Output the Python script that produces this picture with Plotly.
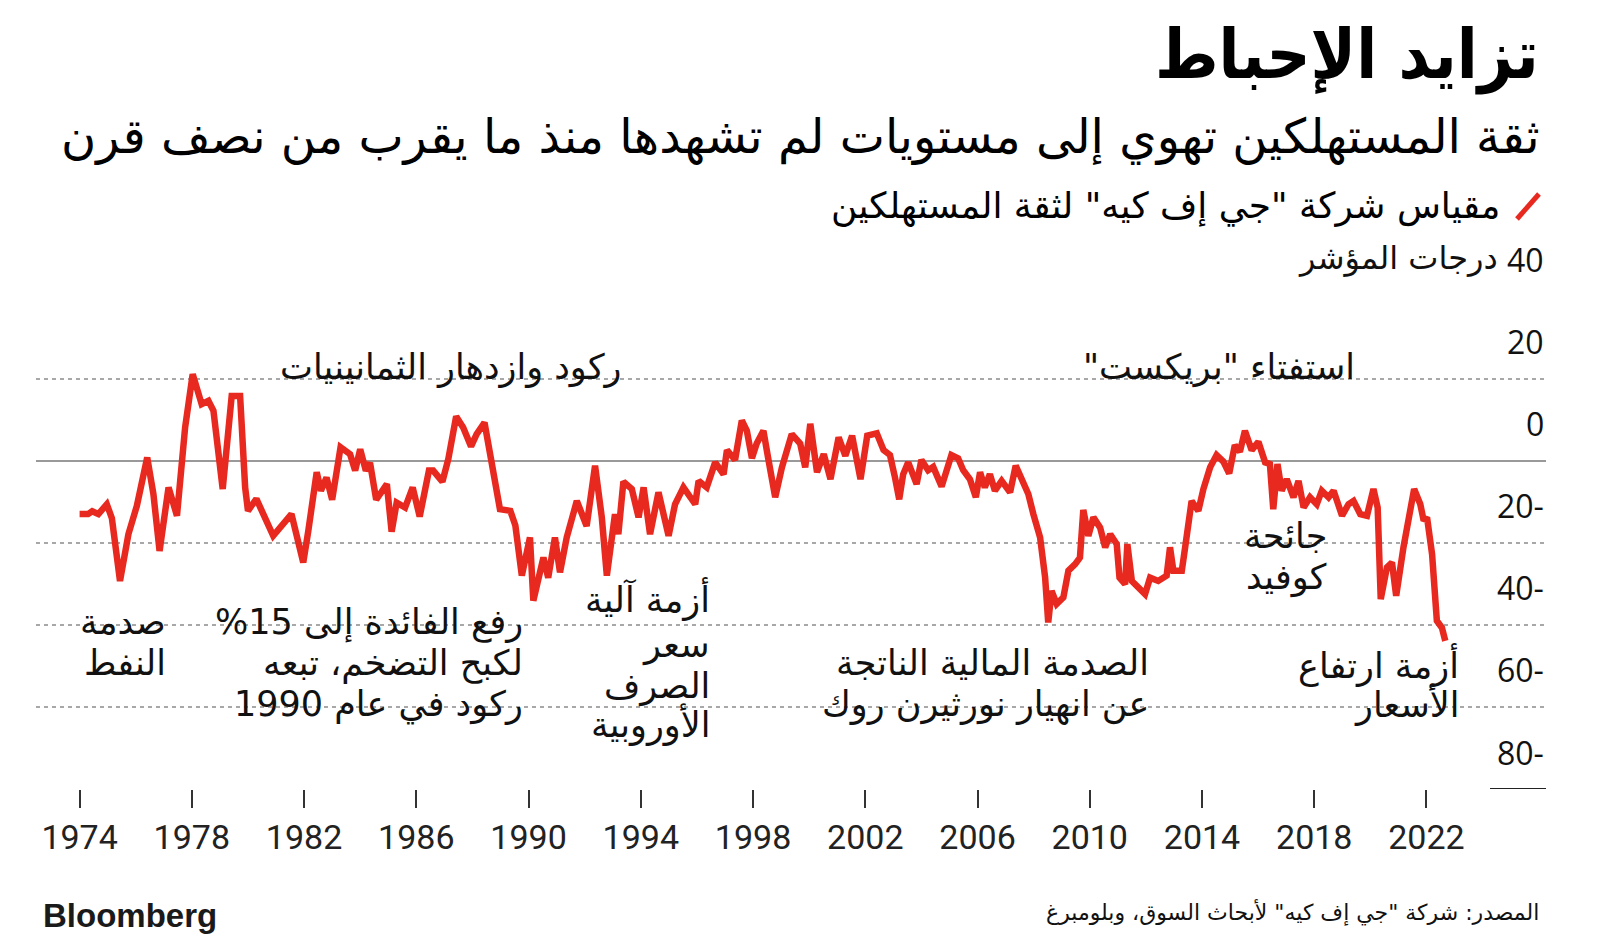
import plotly.graph_objects as go

# ---------------- data ----------------
years = [1974.0, 1974.3, 1974.45, 1974.67, 1974.97, 1975.15, 1975.44, 1975.74, 1976.04, 1976.41,
         1976.63, 1976.85, 1977.17, 1977.47, 1977.76, 1978.03, 1978.35, 1978.59, 1978.77, 1979.1,
         1979.42, 1979.72, 1979.9, 1980.0, 1980.3, 1980.9, 1981.55, 1981.97, 1982.15, 1982.45,
         1982.6, 1982.8, 1983.0, 1983.3, 1983.64, 1983.82, 1984.0, 1984.2, 1984.35, 1984.57,
         1984.95, 1985.12, 1985.3, 1985.6, 1985.87, 1986.12, 1986.45, 1986.6, 1986.93, 1987.14,
         1987.42, 1987.67, 1987.95, 1988.15, 1988.43, 1988.72, 1988.98, 1989.35, 1989.53, 1989.76,
         1990.05, 1990.17, 1990.53, 1990.7, 1990.94, 1991.12, 1991.36, 1991.72, 1992.07, 1992.37,
         1992.61, 1992.79, 1993.08, 1993.2, 1993.38, 1993.68, 1993.92, 1994.1, 1994.33, 1994.63,
         1994.99, 1995.22, 1995.52, 1995.94, 1996.06, 1996.35, 1996.65, 1996.95, 1997.07, 1997.36,
         1997.6, 1997.78, 1997.96, 1998.13, 1998.37, 1998.55, 1998.79, 1999.03, 1999.38, 1999.68,
         1999.86, 2000.04, 2000.28, 2000.52, 2000.76, 2001.05, 2001.29, 2001.53, 2001.83, 2002.07,
         2002.41, 2002.65, 2002.88, 2003.06, 2003.21, 2003.35, 2003.53, 2003.83, 2004.0, 2004.24,
         2004.42, 2004.72, 2005.07, 2005.31, 2005.49, 2005.73, 2005.94, 2006.09, 2006.26, 2006.44,
         2006.62, 2006.86, 2007.16, 2007.36, 2007.57, 2007.81, 2007.99, 2008.23, 2008.41, 2008.52,
         2008.64, 2008.82, 2009.06, 2009.24, 2009.48, 2009.65, 2009.77, 2009.95, 2010.13, 2010.37,
         2010.55, 2010.73, 2010.96, 2011.06, 2011.26, 2011.34, 2011.5, 2011.79, 2011.97, 2012.15,
         2012.44, 2012.74, 2012.86, 2012.98, 2013.28, 2013.4, 2013.63, 2013.87, 2014.05, 2014.29,
         2014.52, 2014.76, 2014.97, 2015.17, 2015.35, 2015.53, 2015.77, 2016.01, 2016.25, 2016.42,
         2016.54, 2016.69, 2016.84, 2017.02, 2017.26, 2017.44, 2017.62, 2017.85, 2018.09, 2018.27,
         2018.51, 2018.69, 2018.99, 2019.22, 2019.4, 2019.64, 2019.88, 2020.11, 2020.26, 2020.37,
         2020.59, 2020.77, 2020.92, 2021.18, 2021.36, 2021.56, 2021.78, 2021.9, 2022.02, 2022.2,
         2022.37, 2022.55, 2022.67]

confidence = [-13, -13, -12.3, -13, -10.6, -14, -29.3, -17.9, -11, 0.8,
              -8.1, -22, -6.5, -13.4, 8.1, 21.1, 13.8, 14.6, 12.2, -6.9,
              15.8, 15.8, -6.5, -12.2, -9.3, -18.3, -13, -24.8, -17.1, -2.8,
              -7.3, -4.1, -9.5, 3.3, 1.6, -2.4, 2.8, -2.4, -0.5, -9.5,
              -5.7, -17.3, -10.2, -11.4, -6.5, -13.6, -2.4, -2.4, -5.1, 0.4,
              10.8, 8.1, 3.5, 6.5, 9.3, -2.4, -11.8, -12.2, -15.8, -28,
              -18.7, -34.1, -23.6, -28.5, -18.7, -27.2, -18.7, -9.8, -15.9, -1.2,
              -13.8, -28, -13, -17.9, -5.1, -6.9, -13.8, -6.5, -17.9, -7.7,
              -18.3, -10.6, -6.5, -10.6, -4.9, -6.5, -0.4, -3.3, 2.6, 0.2,
              9.8, 7.3, 0.6, 4.2, 7.3, 0.2, -8.9, -1.6, 6.5, 4.2,
              -1.6, 9, -2.8, 1.6, -4.5, 5.7, 1.2, 6.1, -4.5, 6.1,
              6.7, 2.6, 1.4, -4.1, -9.4, -3.3, -0.4, -5.7, 0.2, -2.3,
              -1.5, -6.3, 1.4, 0.6, -2.3, -4.5, -8.9, -2.8, -6.5, -3.3,
              -7.3, -4.9, -7.7, -1.2, -4.5, -8.1, -13, -18.7, -28.5, -39.4,
              -31.7, -34.9, -33.3, -26.8, -25.2, -23.6, -12, -18.3, -13.8, -16.3,
              -21.1, -17.9, -20.3, -28.5, -30.1, -20.3, -29.3, -31.5, -32.5, -28.5,
              -29.3, -28, -21.1, -26.8, -26.8, -21.1, -9.8, -12.2, -6.9, -1.6,
              1.4, -0.2, -3.1, 3.8, 2.2, 7.3, 2.6, 4.6, -0.4, -0.8,
              -11.8, -0.8, -7.3, -4.5, -8.9, -4.9, -11.4, -8.9, -10.6, -7.3,
              -8.9, -7.3, -13.4, -10.6, -9.8, -13, -13.4, -6.9, -11.4, -33.7,
              -26, -24.8, -32.9, -21.1, -14.6, -6.9, -10.6, -14.6, -13.8, -22.8,
              -39, -40.7, -43.9]

year_ticks = [1974, 1978, 1982, 1986, 1990, 1994, 1998, 2002, 2006, 2010, 2014, 2018, 2022]
year_labels = [str(y) for y in year_ticks]
grid_values = [40, 20, -20, -40, -60]
y_label_values = [40, 20, 0, -20, -40, -60, -80]
y_label_texts = ["40", "20", "0", "20-", "40-", "60-", "80-"]

title = "تزايد الإحباط"
subtitle = "ثقة المستهلكين تهوي إلى مستويات لم تشهدها منذ ما يقرب من نصف قرن"
legend_text = 'مقياس شركة "جي إف كيه" لثقة المستهلكين'
unit_text = "درجات المؤشر"
source_text = 'المصدر: شركة "جي إف كيه" لأبحاث السوق، وبلومبرغ'
# event labels: list of lines, right edge (px), centre of each line (px)
events = [
    (["ركود وازدهار الثمانينيات"], 624, [367]),
    (['استفتاء "بريكست"'], 1357, [367]),
    (["صدمة", "النفط"], 168, [622, 663]),
    (["رفع الفائدة إلى 15%", "لكبح التضخم، تبعه", "ركود في عام 1990"], 525, [622, 663, 704]),
    (["أزمة آلية", "سعر", "الصرف", "الأوروبية"], 712, [599, 645, 686, 724]),
    (["الصدمة المالية الناتجة", "عن انهيار نورثيرن روك"], 1151, [663, 704]),
    (["جائحة", "كوفيد"], 1329, [536, 577]),
    (["أزمة ارتفاع", "الأسعار"], 1461, [665, 704]),
]

# ---------------- layout geometry (pixels) ----------------
W, H = 1600, 949
L, R, T, B = 36, 1546, 296, 789
PW, PH = R - L, B - T
PX_PER_YEAR = 28.06
X0 = 1974 - (79.6 - L) / PX_PER_YEAR
X1 = 1974 + (R - 79.6) / PX_PER_YEAR
Y_TOP = 40.15


def px(x):
    return (x - L) / PW


def py(y):
    return (B - y) / PH


RLM = "\u200f"


def rtl(s):
    return RLM + s + RLM


AR = "DejaVu Sans, sans-serif"
AR_COND = "DejaVu Sans Condensed, DejaVu Sans, sans-serif"
RED = "#e8291f"

fig = go.Figure()
fig.add_trace(go.Scatter(x=years, y=confidence, mode="lines",
                         line=dict(color=RED, width=6.5), hoverinfo="skip",
                         showlegend=False))

ann = []
ann.append(dict(text="<b>" + rtl(title) + "</b>", x=px(1541), y=py(55), xanchor="right",
                yanchor="middle", font=dict(family=AR_COND, size=68, color="#000")))
ann.append(dict(text=rtl(subtitle), x=px(1541), y=py(136), xanchor="right",
                yanchor="middle", font=dict(family=AR, size=48, color="#000")))
ann.append(dict(text=rtl(legend_text), x=px(1502), y=py(206), xanchor="right",
                yanchor="middle", font=dict(family=AR, size=36, color="#000")))
ann.append(dict(text=rtl(unit_text), x=px(1500), y=py(258), xanchor="right",
                yanchor="middle", font=dict(family=AR, size=32, color="#111")))
for v, t in zip(y_label_values, y_label_texts):
    ann.append(dict(text=t, x=1.0, xref="paper", y=v, yref="y", yshift=37,
                    xanchor="right", yanchor="middle",
                    font=dict(family="Open Sans, sans-serif", size=32, color="#111")))
for lines, xr, ycs in events:
    for line, yc in zip(lines, ycs):
        ann.append(dict(text=rtl(line), x=px(xr), y=py(yc), xanchor="right", yanchor="middle",
                        align="right", font=dict(family=AR, size=35, color="#111")))
ann.append(dict(text="<b>Bloomberg</b>", x=px(41), y=py(915), xanchor="left",
                yanchor="middle", font=dict(family="Liberation Sans, Arial", size=33, color="#1a1a1a")))
ann.append(dict(text=rtl(source_text), x=px(1541), y=py(912), xanchor="right",
                yanchor="middle", font=dict(family=AR, size=22, color="#111")))
for a in ann:
    a.setdefault("xref", "paper")
    a.setdefault("yref", "paper")
    a["showarrow"] = False

shapes = [
    # legend slash icon
    dict(type="line", xref="paper", yref="paper", x0=px(1517), y0=py(219), x1=px(1539), y1=py(194),
         line=dict(color=RED, width=5)),
    # short base line next to the -80 label
    dict(type="line", xref="paper", yref="y", x0=px(1490), x1=1.0, y0=-80, y1=-80,
         line=dict(color="#222", width=2)),
]

fig.update_layout(
    width=W, height=H, autosize=False,
    margin=dict(l=L, r=W - R, t=T, b=H - B, pad=0),
    paper_bgcolor="white", plot_bgcolor="white",
    showlegend=False,
    annotations=ann, shapes=shapes,
    xaxis=dict(range=[X0, X1], tickmode="array", tickvals=year_ticks, ticktext=year_labels,
               ticks="outside", ticklen=18, tickwidth=1.5, tickcolor="#333",
               showgrid=False, zeroline=False, showline=False,
               tickfont=dict(family="Roboto, sans-serif", size=34, color="#222")),
    yaxis=dict(range=[-80, Y_TOP], tickmode="array", tickvals=grid_values, showticklabels=False,
               showgrid=True, gridcolor="#a8a8a8", gridwidth=2, griddash="4px,4px",
               zeroline=True, zerolinecolor="#999", zerolinewidth=2, showline=False, ticks=""),
)

fig.write_html("out.html")
